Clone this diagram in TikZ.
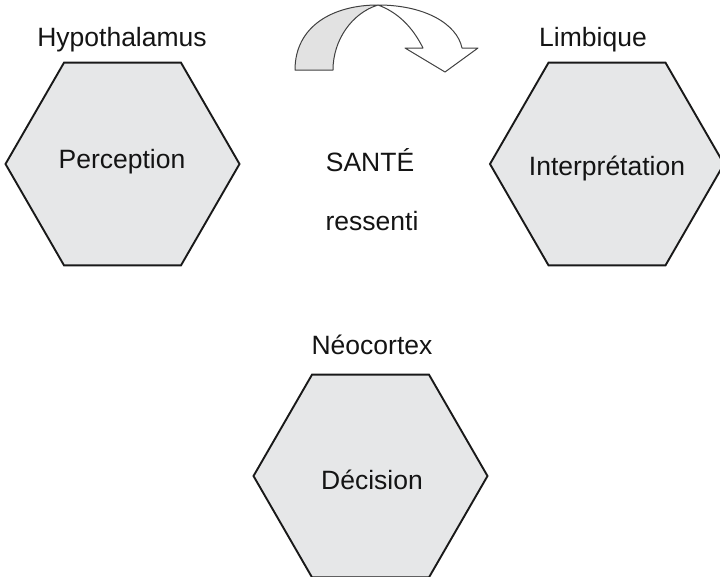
\documentclass[tikz,border=0pt]{standalone}
\usepackage{fontspec}
\setmainfont{Liberation Sans}
\usetikzlibrary{shapes.geometric}
\definecolor{hexfill}{HTML}{E6E7E8}
\definecolor{arrowfill}{HTML}{E2E2E2}
\tikzset{
  hexa/.style={regular polygon, regular polygon sides=6, minimum size=234pt, inner sep=0pt,
    draw=black!90, fill=hexfill, line width=1.9pt},
  lbl/.style={font=\fontsize{26.5}{31}\selectfont, inner sep=0pt, text=black!92},
  arrowline/.style={draw=black!75, line width=1pt, line join=round}
}
\begin{document}
\begin{tikzpicture}[x=1pt,y=-1pt]
\useasboundingbox (0,0) rectangle (720,576);
\node[hexa] (perc) at (122.5,164) {};
\node[hexa] (interp) at (607,164) {};
\node[hexa] (dec) at (370.5,476) {};
\node[lbl] (percT) at (122,162) {Perception};
\node[lbl] (interpT) at (607,168) {Interprétation};
\node[lbl] (decT) at (372,480) {Décision};
\node[lbl] (hypo) at (122,40) {Hypothalamus};
\node[lbl] (limb) at (593,40) {Limbique};
\node[lbl] (neo) at (372,345) {Néocortex};
\node[lbl] (sante) at (370,160) {SANTÉ};
\node[lbl] (ress) at (372,221) {ressenti};
% curved arrow
\path[arrowline, fill=white] (378,5) .. controls (425,5) and (457,24) .. (462,48)
  -- (478,48) -- (445,72) -- (405,48) -- (423,48)
  .. controls (412,26) and (397,12) .. (378,5) -- cycle;
\path[arrowline, fill=arrowfill] (295,70) .. controls (295,26) and (333,5) .. (378,5)
  .. controls (352,13) and (333,40) .. (333,70) -- cycle;
\end{tikzpicture}
\end{document}
